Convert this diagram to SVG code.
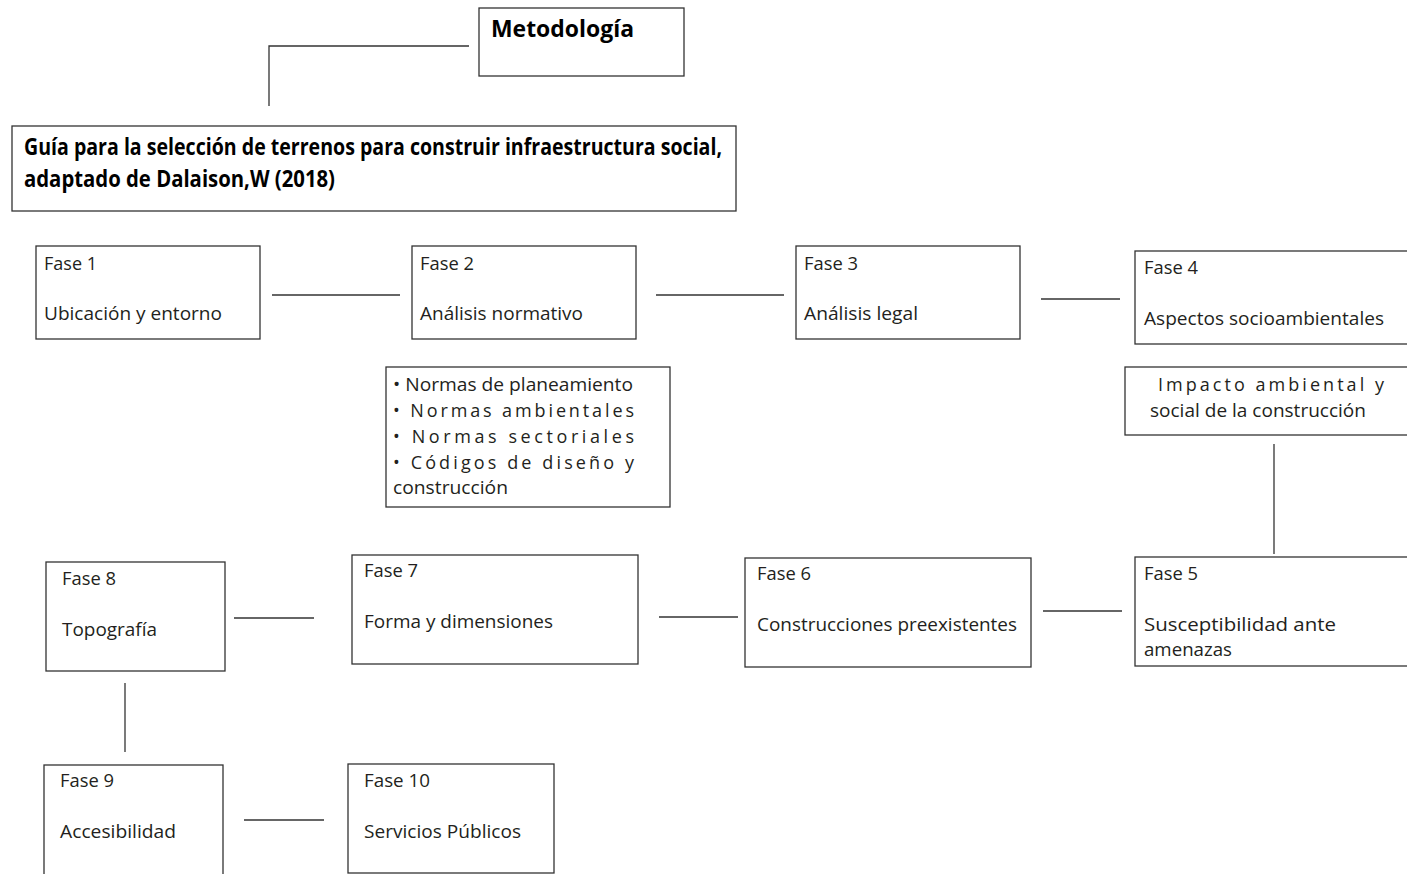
<svg xmlns="http://www.w3.org/2000/svg" width="1407" height="874" viewBox="0 0 1407 874">
<style>
rect{fill:#fff;stroke:#333;stroke-width:1.3}
line{stroke:#333;stroke-width:1.3}
text{font-family:"Open Sans","Noto Sans",sans-serif;font-size:18px;fill:#231f20}
.b{font-weight:bold;font-size:23px;fill:#000}
</style>
<rect x="0" y="0" width="1407" height="874" style="fill:#fff;stroke:none"/>
<g id="connectors">
<polyline points="269,106 269,46 469,46" style="fill:none;stroke:#333;stroke-width:1.3"/>
<line x1="272" y1="295" x2="400" y2="295"/>
<line x1="656" y1="295" x2="784" y2="295"/>
<line x1="1041" y1="299" x2="1120" y2="299"/>
<line x1="1274" y1="444" x2="1274" y2="554"/>
<line x1="1043" y1="611" x2="1122" y2="611"/>
<line x1="659" y1="617" x2="738" y2="617"/>
<line x1="234" y1="618" x2="314" y2="618"/>
<line x1="125" y1="683" x2="125" y2="752"/>
<line x1="244" y1="820" x2="324" y2="820"/>
</g>
<g id="metodologia">
<rect x="479" y="8" width="205" height="68"/>
<text class="b" x="491" y="37" style="font-size:24px" textLength="143" lengthAdjust="spacingAndGlyphs">Metodología</text>
</g>
<g id="guia">
<rect x="12" y="126" width="724" height="85"/>
<text class="b" x="24" y="155" textLength="698" lengthAdjust="spacingAndGlyphs">Guía para la selección de terrenos para construir infraestructura social,</text>
<text class="b" x="24" y="187" textLength="311" lengthAdjust="spacingAndGlyphs">adaptado de Dalaison,W (2018)</text>
</g>
<g id="fase1">
<rect x="36" y="246" width="224" height="93"/>
<text x="44" y="270" textLength="53" lengthAdjust="spacingAndGlyphs">Fase 1</text>
<text x="44" y="320" textLength="178" lengthAdjust="spacingAndGlyphs">Ubicación y entorno</text>
</g>
<g id="fase2">
<rect x="412" y="246" width="224" height="93"/>
<text x="420" y="270" textLength="54" lengthAdjust="spacingAndGlyphs">Fase 2</text>
<text x="420" y="320" textLength="163" lengthAdjust="spacingAndGlyphs">Análisis normativo</text>
</g>
<g id="fase3">
<rect x="796" y="246" width="224" height="93"/>
<text x="804" y="270" textLength="54" lengthAdjust="spacingAndGlyphs">Fase 3</text>
<text x="804" y="320" textLength="114" lengthAdjust="spacingAndGlyphs">Análisis legal</text>
</g>
<g id="fase4">
<rect x="1135" y="251" width="290" height="93"/>
<text x="1144" y="274" textLength="54" lengthAdjust="spacingAndGlyphs">Fase 4</text>
<text x="1144" y="325" textLength="240" lengthAdjust="spacingAndGlyphs">Aspectos socioambientales</text>
</g>
<g id="normas">
<rect x="386" y="367" width="284" height="140"/>
<text x="393" y="391" textLength="240" lengthAdjust="spacingAndGlyphs">• Normas de planeamiento</text>
<text x="393" y="417" textLength="241" lengthAdjust="spacing">•  Normas ambientales</text>
<text x="393" y="443" textLength="241" lengthAdjust="spacing">•  Normas sectoriales</text>
<text x="393" y="469" textLength="241" lengthAdjust="spacing">• Códigos de diseño y</text>
<text x="393" y="494" textLength="115" lengthAdjust="spacingAndGlyphs">construcción</text>
</g>
<g id="impacto">
<rect x="1125" y="367" width="300" height="68"/>
<text x="1158" y="391" textLength="226" lengthAdjust="spacing">Impacto ambiental y</text>
<text x="1150" y="417" textLength="216" lengthAdjust="spacingAndGlyphs">social de la construcción</text>
</g>
<g id="fase5">
<rect x="1135" y="557" width="290" height="109"/>
<text x="1144" y="580" textLength="54" lengthAdjust="spacingAndGlyphs">Fase 5</text>
<text x="1144" y="631" textLength="192" lengthAdjust="spacingAndGlyphs">Susceptibilidad ante</text>
<text x="1144" y="656" textLength="88" lengthAdjust="spacingAndGlyphs">amenazas</text>
</g>
<g id="fase6">
<rect x="745" y="558" width="286" height="109"/>
<text x="757" y="580" textLength="54" lengthAdjust="spacingAndGlyphs">Fase 6</text>
<text x="757" y="631" textLength="260" lengthAdjust="spacingAndGlyphs">Construcciones preexistentes</text>
</g>
<g id="fase7">
<rect x="352" y="555" width="286" height="109"/>
<text x="364" y="577" textLength="54" lengthAdjust="spacingAndGlyphs">Fase 7</text>
<text x="364" y="628" textLength="189" lengthAdjust="spacingAndGlyphs">Forma y dimensiones</text>
</g>
<g id="fase8">
<rect x="46" y="562" width="179" height="109"/>
<text x="62" y="585" textLength="54" lengthAdjust="spacingAndGlyphs">Fase 8</text>
<text x="62" y="636" textLength="95" lengthAdjust="spacingAndGlyphs">Topografía</text>
</g>
<g id="fase9">
<rect x="44" y="765" width="179" height="120"/>
<text x="60" y="787" textLength="54" lengthAdjust="spacingAndGlyphs">Fase 9</text>
<text x="60" y="838" textLength="116" lengthAdjust="spacingAndGlyphs">Accesibilidad</text>
</g>
<g id="fase10">
<rect x="348" y="764" width="206" height="109"/>
<text x="364" y="787" textLength="66" lengthAdjust="spacingAndGlyphs">Fase 10</text>
<text x="364" y="838" textLength="157" lengthAdjust="spacingAndGlyphs">Servicios Públicos</text>
</g>
</svg>
